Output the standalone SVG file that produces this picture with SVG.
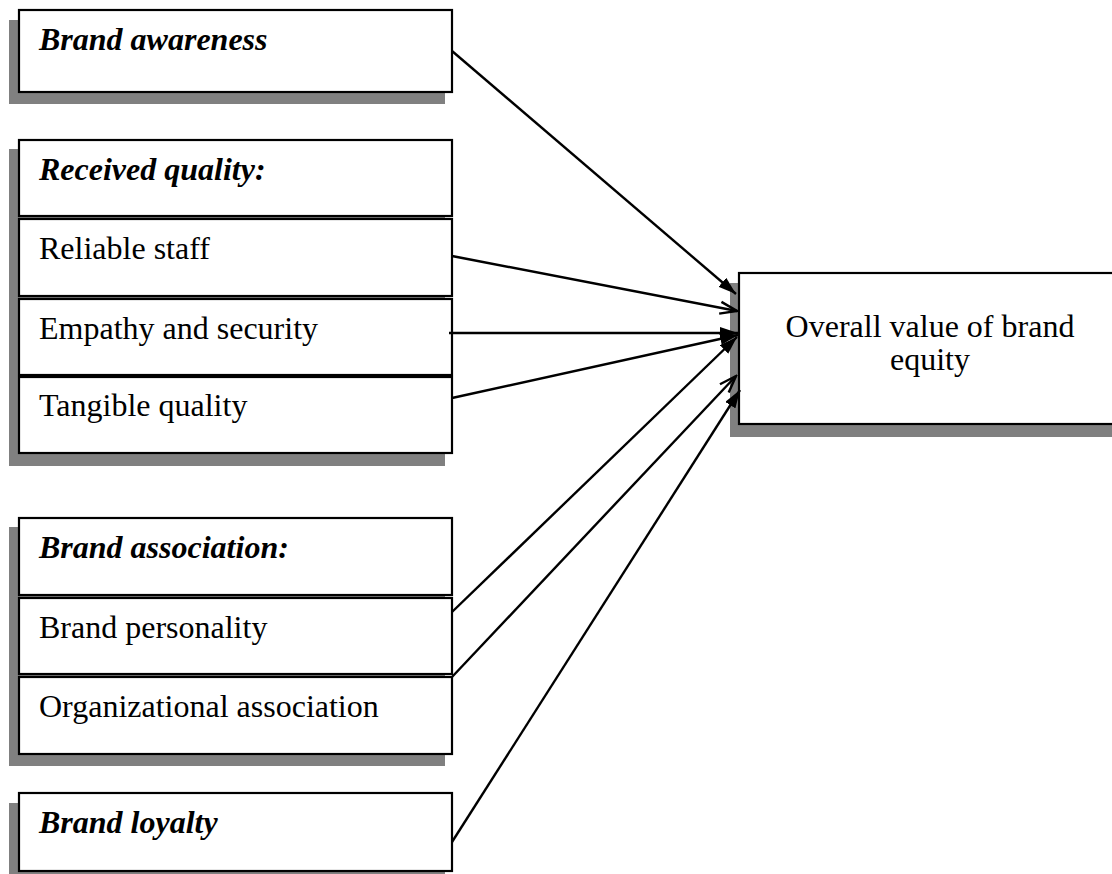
<svg xmlns="http://www.w3.org/2000/svg" width="1112" height="874" viewBox="0 0 1112 874">
  <style>
    .shadow { fill: #808080; }
    .box { fill: #ffffff; stroke: #000000; stroke-width: 2.2; }
    .label { font-family: "Liberation Serif", "Times New Roman", serif; font-size: 32px; fill: #000000; }
    .head { font-weight: bold; font-style: italic; }
    .link { stroke: #000000; stroke-width: 2.4; fill: none; }
  </style>
  <defs>
    <marker id="solid" viewBox="0 0 18 12" refX="18" refY="6" markerWidth="18" markerHeight="12" markerUnits="userSpaceOnUse" orient="auto">
      <path d="M0,0 L18,6 L0,12 z" fill="#000000"/>
    </marker>
    <marker id="open" viewBox="-2 -2 21 16" refX="17" refY="6" markerWidth="21" markerHeight="16" markerUnits="userSpaceOnUse" orient="auto">
      <path d="M0,0 L17,6 L0,12" fill="none" stroke="#000000" stroke-width="2.4"/>
    </marker>
  </defs>

  <rect width="1112" height="874" fill="#ffffff"/>

  <!-- drop shadows -->
  <g id="shadows">
    <rect class="shadow" x="9" y="20" width="436" height="84"/>
    <rect class="shadow" x="9" y="149" width="436" height="317"/>
    <rect class="shadow" x="9" y="527" width="436" height="239"/>
    <rect class="shadow" x="9" y="803" width="436" height="80"/>
    <rect class="shadow" x="730" y="283" width="390" height="154"/>
  </g>

  <g id="brand-awareness">
    <rect class="box" x="19" y="10" width="433" height="82"/>
    <text class="label head" x="39" y="50">Brand awareness</text>
  </g>

  <g id="received-quality">
    <rect class="box" x="19" y="140" width="433" height="76"/>
    <text class="label head" x="39" y="180">Received quality:</text>
  </g>
  <g id="reliable-staff">
    <rect class="box" x="19" y="219" width="433" height="77"/>
    <text class="label" x="39" y="259">Reliable staff</text>
  </g>
  <g id="empathy-security">
    <rect class="box" x="19" y="299" width="433" height="76"/>
    <text class="label" x="39" y="339">Empathy and security</text>
  </g>
  <g id="tangible-quality">
    <rect class="box" x="19" y="377" width="433" height="76"/>
    <text class="label" x="39" y="416">Tangible quality</text>
  </g>

  <g id="brand-association">
    <rect class="box" x="19" y="518" width="433" height="77"/>
    <text class="label head" x="39" y="558">Brand association:</text>
  </g>
  <g id="brand-personality">
    <rect class="box" x="19" y="598" width="433" height="76"/>
    <text class="label" x="39" y="638">Brand personality</text>
  </g>
  <g id="organizational-association">
    <rect class="box" x="19" y="677" width="433" height="77"/>
    <text class="label" x="39" y="717">Organizational association</text>
  </g>

  <g id="brand-loyalty">
    <rect class="box" x="19" y="793" width="433" height="78"/>
    <text class="label head" x="39" y="833">Brand loyalty</text>
  </g>

  <g id="brand-equity">
    <rect class="box" x="739" y="273" width="380" height="151"/>
    <text class="label" x="930" y="337" text-anchor="middle">Overall value of brand</text>
    <text class="label" x="930" y="370" text-anchor="middle">equity</text>
  </g>

  <g id="connectors">
    <line class="link" x1="452" y1="51" x2="736" y2="294" marker-end="url(#solid)"/>
    <line class="link" x1="452" y1="256" x2="737" y2="311" marker-end="url(#open)"/>
    <line class="link" x1="449" y1="333" x2="738" y2="333" marker-end="url(#solid)"/>
    <line class="link" x1="452" y1="398" x2="738" y2="335" marker-end="url(#solid)"/>
    <line class="link" x1="452" y1="612" x2="737" y2="337" marker-end="url(#solid)"/>
    <line class="link" x1="452" y1="677" x2="736" y2="376" marker-end="url(#open)"/>
    <line class="link" x1="452" y1="842" x2="740" y2="390" marker-end="url(#solid)"/>
  </g>
</svg>
